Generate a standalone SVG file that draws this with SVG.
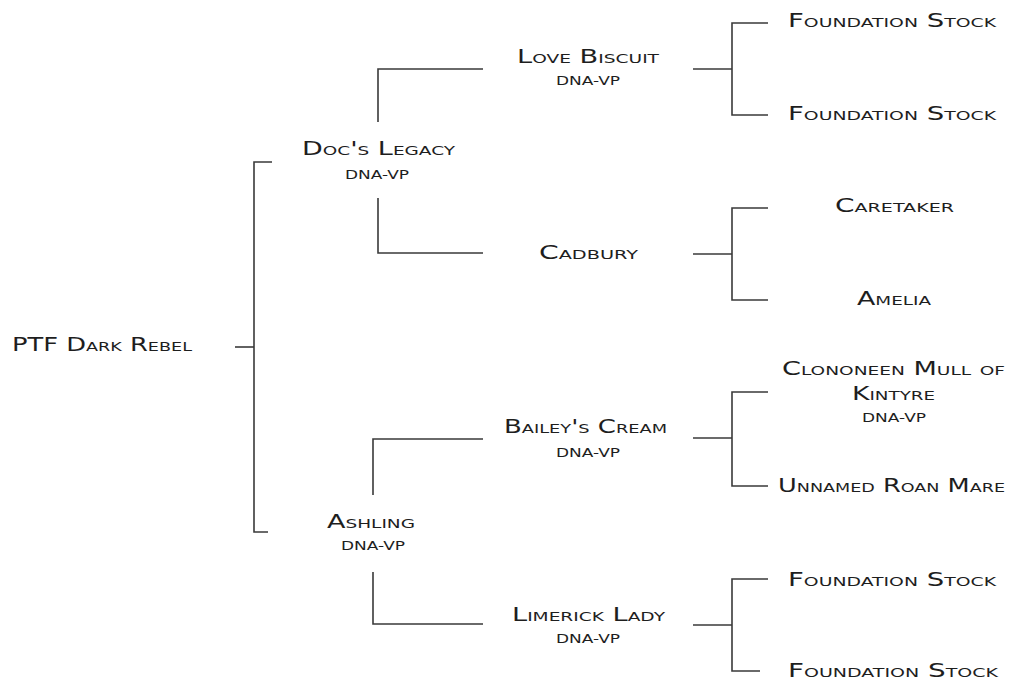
<svg xmlns="http://www.w3.org/2000/svg" width="1012" height="680" viewBox="0 0 1012 680">
<style>
  .bg { fill: #ffffff; }
  .n { font-family: "DejaVu Sans", "Liberation Sans", sans-serif; font-variant: small-caps; font-size: 19px; fill: #1e1e1e; }
  .s { font-family: "DejaVu Sans", "Liberation Sans", sans-serif; font-size: 12px; fill: #1e1e1e; }
  .c path { fill: none; stroke: #3a3a3a; stroke-width: 1.6; }
</style>
<rect class="bg" x="0" y="0" width="1012" height="680"/>

<g id="connectors" class="c">
  <path d="M235 347 H254"/>
  <path d="M272 162 H254 V532 H268"/>
  <path d="M483 69 H378 V122"/>
  <path d="M378 198 V253 H483"/>
  <path d="M483 439 H373 V495"/>
  <path d="M373 572 V624 H483"/>
  <path d="M693 69 H732"/>
  <path d="M768 23 H732 V115 H768"/>
  <path d="M693 254 H732"/>
  <path d="M768 208 H732 V300 H768"/>
  <path d="M693 438 H732"/>
  <path d="M768 392 H732 V486 H768"/>
  <path d="M693 625 H732"/>
  <path d="M768 579 H732 V671 H760"/>
</g>

<g id="node-ptf-dark-rebel">
  <text class="n" x="12" y="351" textLength="180" lengthAdjust="spacingAndGlyphs">PTF Dark Rebel</text>
</g>
<g id="node-docs-legacy">
  <text class="n" x="302" y="155" textLength="153" lengthAdjust="spacingAndGlyphs">Doc's Legacy</text>
  <text class="s" x="345" y="179" textLength="64" lengthAdjust="spacingAndGlyphs">DNA-VP</text>
</g>
<g id="node-ashling">
  <text class="n" x="327" y="528" textLength="88" lengthAdjust="spacingAndGlyphs">Ashling</text>
  <text class="s" x="341" y="550" textLength="64" lengthAdjust="spacingAndGlyphs">DNA-VP</text>
</g>
<g id="node-love-biscuit">
  <text class="n" x="517" y="63" textLength="142" lengthAdjust="spacingAndGlyphs">Love Biscuit</text>
  <text class="s" x="556" y="85" textLength="64" lengthAdjust="spacingAndGlyphs">DNA-VP</text>
</g>
<g id="node-cadbury">
  <text class="n" x="539" y="259" textLength="99" lengthAdjust="spacingAndGlyphs">Cadbury</text>
</g>
<g id="node-baileys-cream">
  <text class="n" x="504" y="433" textLength="163" lengthAdjust="spacingAndGlyphs">Bailey's Cream</text>
  <text class="s" x="556" y="457" textLength="64" lengthAdjust="spacingAndGlyphs">DNA-VP</text>
</g>
<g id="node-limerick-lady">
  <text class="n" x="512" y="621" textLength="153" lengthAdjust="spacingAndGlyphs">Limerick Lady</text>
  <text class="s" x="556" y="643" textLength="64" lengthAdjust="spacingAndGlyphs">DNA-VP</text>
</g>
<g id="node-foundation-stock-1">
  <text class="n" x="788" y="27" textLength="208" lengthAdjust="spacingAndGlyphs">Foundation Stock</text>
</g>
<g id="node-foundation-stock-2">
  <text class="n" x="788" y="120" textLength="208" lengthAdjust="spacingAndGlyphs">Foundation Stock</text>
</g>
<g id="node-caretaker">
  <text class="n" x="835" y="212" textLength="119" lengthAdjust="spacingAndGlyphs">Caretaker</text>
</g>
<g id="node-amelia">
  <text class="n" x="857" y="305" textLength="74" lengthAdjust="spacingAndGlyphs">Amelia</text>
</g>
<g id="node-clononeen">
  <text class="n" x="782" y="375" textLength="223" lengthAdjust="spacingAndGlyphs">Clononeen Mull of</text>
  <text class="n" x="852" y="400" textLength="83" lengthAdjust="spacingAndGlyphs">Kintyre</text>
  <text class="s" x="862" y="422" textLength="64" lengthAdjust="spacingAndGlyphs">DNA-VP</text>
</g>
<g id="node-unnamed-roan-mare">
  <text class="n" x="778" y="492" textLength="227" lengthAdjust="spacingAndGlyphs">Unnamed Roan Mare</text>
</g>
<g id="node-foundation-stock-3">
  <text class="n" x="788" y="586" textLength="208" lengthAdjust="spacingAndGlyphs">Foundation Stock</text>
</g>
<g id="node-foundation-stock-4">
  <text class="n" x="788" y="677" textLength="210" lengthAdjust="spacingAndGlyphs">Foundation Stock</text>
</g>
</svg>
